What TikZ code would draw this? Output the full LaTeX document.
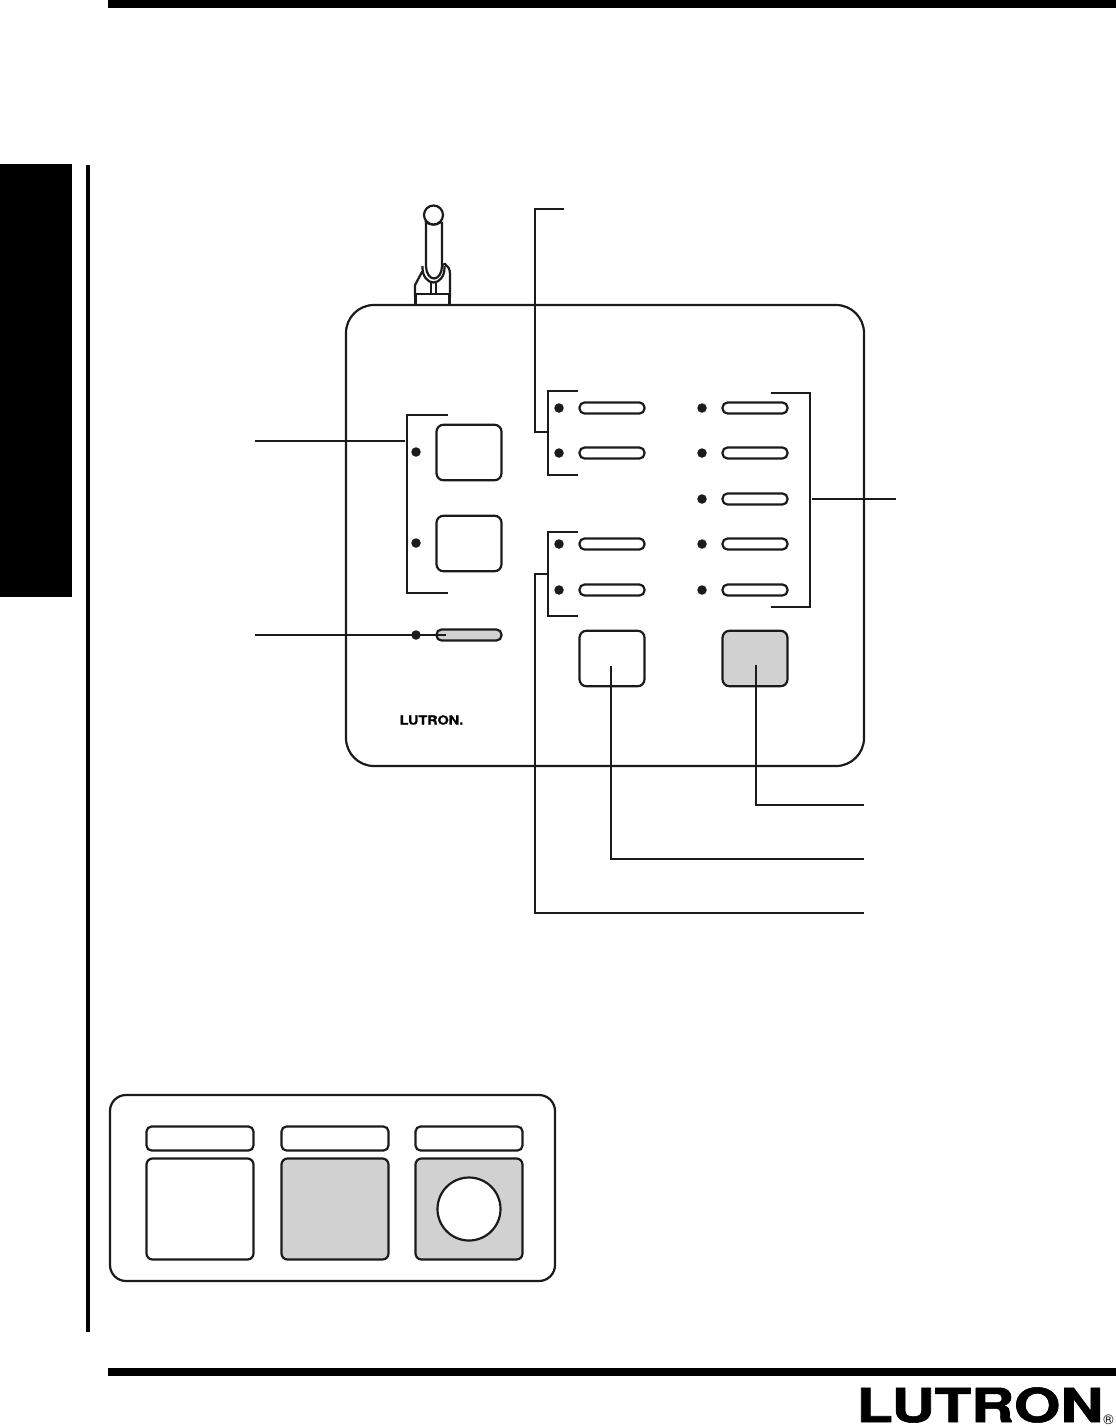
\documentclass[tikz,border=0pt]{standalone}
\usepackage{fontspec}
\setmainfont{TeX Gyre Heros}
\newfontfamily\logofont[FakeBold=1.2]{TeX Gyre Heros Bold}
\definecolor{panelgray}{HTML}{D1D1D1}
\definecolor{inkblack}{HTML}{1C1A1B}
\tikzset{
  every node/.style={inner sep=0pt,outer sep=0pt},
  ink/.style={draw=inkblack,line width=2.2pt},
  thinink/.style={draw=inkblack,line width=2pt},
  leader/.style={thinink,line cap=butt,line join=miter},
  solidbar/.style={fill=black,draw=none},
  ledhole/.style={circle,fill=inkblack,minimum size=9.5pt},
  slotbtn/.style={ink,fill=white,rounded corners=5pt,minimum width=65pt,minimum height=11pt},
  squarebtn/.style={ink,fill=white,rounded corners=7pt,minimum width=65pt,minimum height=55.5pt},
  legendtag/.style={ink,fill=white,rounded corners=5pt,minimum width=107pt,minimum height=24pt},
  legendkey/.style={ink,fill=white,rounded corners=6pt,minimum width=107pt,minimum height=101pt},
}
\begin{document}
\begin{tikzpicture}[x=1pt,y=-1pt]
    \useasboundingbox (0,0) rectangle (1116,1427);
    %% page furniture
    \fill[solidbar] (108,0) rectangle (1116,8);
    \fill[solidbar] (0,164) rectangle (72,597);
    \fill[solidbar] (86,165) rectangle (90,1332);
    \fill[solidbar] (108,1368) rectangle (1116,1376);
    \node (brand) at (980,1405) {\fontsize{47}{47}\selectfont\logofont\scalebox{1.27}[1]{LUTRON}};
    \node (regmark) at (1108.5,1420) {\fontsize{14}{14}\selectfont\textregistered};
    %% antenna
    \draw[ink,fill=white] (415,296) -- (415,285) -- (422,272) -- (433,268) -- (445,264)
        .. controls (448,266) and (450,269) .. (450,274) -- (450,296) -- cycle;
    \draw[ink] (431,283) -- (431,296) (436,283) -- (436,296);
    \draw[ink,fill=white] (422.5,266) -- (422.5,268) arc(180:0:11 and 14.5) -- (444.5,266);
    \draw[ink,fill=white] (426,222) -- (426,266) arc(180:0:8 and 12.5) -- (442,222);
    \draw[ink,fill=white] (433.5,215) circle (9.5);
    \draw[ink,line width=1.4pt] (425,221) arc(160:20:9 and 6);
    \draw[ink,fill=white] (415.5,294) rectangle (449.5,305);
    %% wall panel
    \node[ink,rounded corners=28pt,minimum width=518pt,minimum height=461pt] (panel) at (605,535.5) {};
    \node (panelbrand) at (431.5,720) {\fontsize{12.5}{12.5}\selectfont\logofont\scalebox{1.15}[1]{LUTRON.}};
    %% scene buttons at the left
    \node[squarebtn] (sceneA) at (469,452.5) {};
    \node[squarebtn] (sceneB) at (469,543.5) {};
    \node[slotbtn,fill=panelgray] (sceneOff) at (469,635) {};
    \node[ledhole] (ledA) at (416,452) {};
    \node[ledhole] (ledB) at (416,543) {};
    \node[ledhole] (ledOff) at (416,635) {};
    %% slot buttons
    \foreach \rowname/\ypos in {a/408,b/453,c/544,d/590} {
        \node[slotbtn] (slotL\rowname) at (612,\ypos) {};
        \node[ledhole] (ledL\rowname) at (559,\ypos) {};
    }
    \foreach \rowname/\ypos in {a/408,b/453,m/499,c/544,d/590} {
        \node[slotbtn] (slotR\rowname) at (755,\ypos) {};
        \node[ledhole] (ledR\rowname) at (702,\ypos) {};
    }
    %% big buttons at the bottom
    \node[squarebtn] (raiseBtn) at (612,658.5) {};
    \node[squarebtn,fill=panelgray] (lowerBtn) at (755,658.5) {};
    %% leader ends
    \coordinate (scenesEnd) at (255,441);
    \coordinate (scenesTip) at (405,441);
    \coordinate (offEnd) at (255,635);
    \coordinate (offTip) at (446,635);
    \coordinate (topEnd) at (564,209);
    \coordinate (topTip) at (548,432);
    \coordinate (midTip) at (548,574);
    \coordinate (rightTip) at (812,499);
    \coordinate (rightEnd) at (896,499);
    \coordinate (lowerTip) at (756,665);
    \coordinate (lowerEnd) at (864,805);
    \coordinate (raiseTip) at (611,666);
    \coordinate (raiseEnd) at (864,859);
    \coordinate (midEnd) at (864,913);
    %% brackets
    \draw[leader] (448,415) -- (407,415) -- (407,593) -- (448,593);
    \draw[leader] (578,391) -- (548,391) -- (548,475) -- (578,475);
    \draw[leader] (578,532) -- (548,532) -- (548,616) -- (578,616);
    \draw[leader] (771,393) -- (810,393) -- (810,607) -- (771,607);
    %% leaders
    \draw[leader] (scenesEnd) -- (scenesTip);
    \draw[leader] (offEnd) -- (offTip);
    \draw[leader] (topEnd) -- (535,209) -- (535,432) -- (topTip);
    \draw[leader] (midTip) -- (535,574) -- (535,913) -- (midEnd);
    \draw[leader] (rightTip) -- (rightEnd);
    \draw[leader] (lowerTip) |- (lowerEnd);
    \draw[leader] (raiseTip) |- (raiseEnd);
    %% legend
    \node[ink,rounded corners=16pt,minimum width=445pt,minimum height=186pt] (legend) at (332.5,1188) {};
    \foreach \keyname/\xpos in {blank/200,gray/335,round/469} {
        \node[legendtag] (tag\keyname) at (\xpos,1138.5) {};
    }
    \node[legendkey] (keyblank) at (200,1209) {};
    \node[legendkey,fill=panelgray] (keygray) at (335,1209) {};
    \node[legendkey,fill=panelgray] (keyround) at (469,1209) {};
    \node[ink,circle,fill=white,minimum size=63pt] (keyhole) at (keyround.center) {};
\end{tikzpicture}
\end{document}
